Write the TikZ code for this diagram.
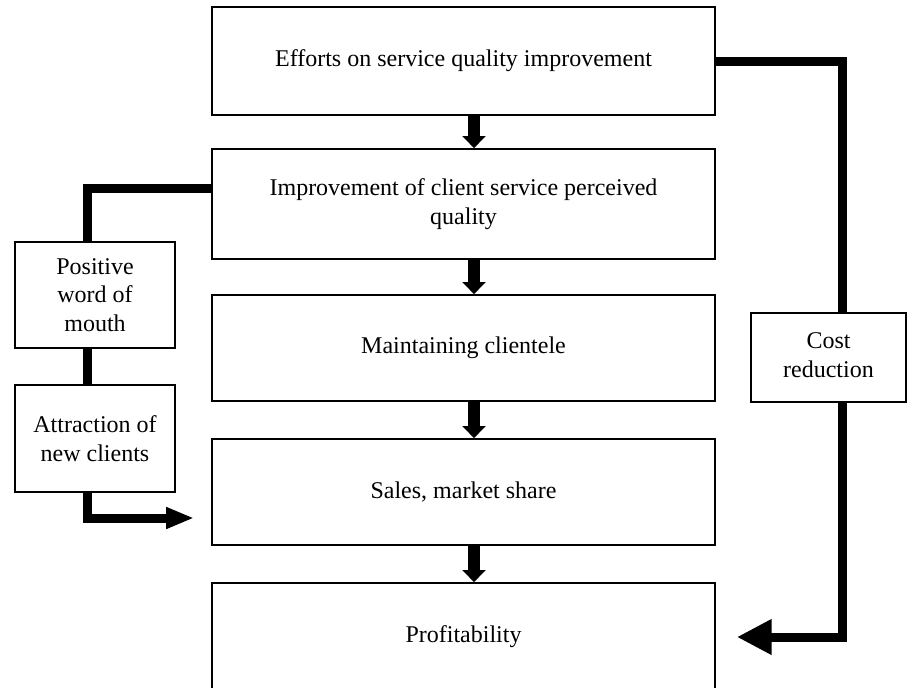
\documentclass[tikz,border=0pt]{standalone}
\usepackage{fontspec}
\setmainfont{Liberation Serif}
\usetikzlibrary{arrows.meta, positioning, calc}

\begin{document}
\begin{tikzpicture}[
    x=0.75pt, y=-0.75pt,
    box/.style={rectangle, draw=black, line width=1.3pt, fill=white, minimum width=377.25pt, minimum height=79.5pt, align=center, font=\fontsize{18}{21.6}\selectfont},
    sidebox/.style={box, minimum width=120pt},
    link/.style={line width=6.75pt, black},
    downarrow/.style={line width=9pt, black, -{Triangle[length=9pt, width=17pt]}}
]
\clip (0,0) rectangle (907,687);
\fill[white] (0,0) rectangle (907,687);

% Main chain
\node[box, minimum height=81pt] (effort) at (463.5,61) {\raisebox{4pt}{Efforts on service quality improvement}};
\node[box, minimum height=82.5pt] (perceived) at (463.5,204) {Improvement of client service perceived\\quality};
\node[box] (clientele) at (463.5,348) {Maintaining clientele};
\node[box] (sales) at (463.5,492) {Sales, market share};
\node[box, minimum height=81pt] (profit) at (463.5,637) {\raisebox{5pt}{Profitability}};

% Side boxes
\node[sidebox] (word) at (95,295) {Positive\\word of\\mouth};
\node[sidebox, minimum height=80.25pt] (attract) at (95,438.5) {Attraction of\\new clients};
\node[sidebox, minimum width=116.25pt, minimum height=66.75pt] (cost) at (828.5,357.5) {\raisebox{4pt}{\begin{tabular}{@{}c@{}}Cost\\reduction\end{tabular}}};

% Down arrows
\foreach \a/\b in {effort/perceived, perceived/clientele, clientele/sales, sales/profit}
    \draw[downarrow] ($(\a.south)+(10.5,0)$) -- ($(\b.north)+(10.5,0)$);

% Left branch
\draw[link] ($(perceived.west)+(0,-16)$) -| ($(word.north)+(-8,0)$);
\draw[link] ($(word.south)+(-8,0)$) -- ($(attract.north)+(-8,0)$);
\draw[link, -{Triangle[length=21pt, width=15pt]}] ($(attract.south)+(-8,0)$) |- ($(sales.west)+(-17,26)$);

% Right branch
\draw[link] (effort.east) -| ($(cost.north)+(13.5,0)$);
\draw[link, -{Triangle[length=26pt, width=25pt]}] ($(cost.south)+(13.5,0)$) |- ($(profit.east)+(21,0)$);
\end{tikzpicture}
\end{document}
